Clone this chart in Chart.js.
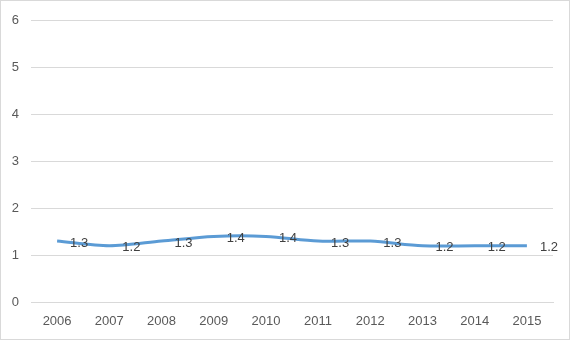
<!DOCTYPE html>
<html>
<head>
<meta charset="utf-8">
<script src="https://cdn.jsdelivr.net/npm/chart.js@4/dist/chart.umd.min.js"></script>
<style>
  html, body { margin: 0; padding: 0; background: #fff; }
  #wrap { position: relative; width: 568px; height: 338px; border: 1px solid #d9d9d9; }
</style>
</head>
<body>
<div id="wrap"><canvas id="chart"></canvas></div>
<script>
var years = ['2006', '2007', '2008', '2009', '2010', '2011', '2012', '2013', '2014', '2015'];
var values = [1.3, 1.2, 1.3, 1.4, 1.4, 1.3, 1.3, 1.2, 1.2, 1.2];
var yTicks = [0, 1, 2, 3, 4, 5, 6];

// draws the value next to each point, like Excel's "right" label position
var valueLabels = {
    id: 'valueLabels',
    afterDatasetsDraw: function (chart) {
        var ctx = chart.ctx;
        var meta = chart.getDatasetMeta(0);
        ctx.save();
        ctx.font = '13px "Liberation Sans", Arial, sans-serif';
        ctx.fillStyle = '#404040';
        ctx.textAlign = 'left';
        ctx.textBaseline = 'middle';
        meta.data.forEach(function (pt, i) {
            ctx.fillText(values[i].toFixed(1), pt.x + 13, pt.y + 2);
        });
        ctx.restore();
    }
};

var ctx = document.getElementById('chart').getContext('2d');
var chart = new Chart(ctx, {
    type: 'line',
    data: {
        labels: years,
        datasets: [{
            data: values,
            borderColor: '#5b9bd5',
            borderWidth: 3,
            tension: 0.3,
            pointRadius: 0,
            fill: false
        }]
    },
    options: {
        responsive: true,
        maintainAspectRatio: false,
        animation: false,
        layout: { padding: { top: 14, right: 16, left: 0, bottom: 0 } },
        plugins: {
            legend: { display: false },
            tooltip: { enabled: false }
        },
        scales: {
            x: {
                offset: true,
                grid: { display: false, drawTicks: false },
                border: { display: true, color: '#d9d9d9' },
                ticks: {
                    color: '#595959',
                    font: { family: '"Liberation Sans", Arial, sans-serif', size: 13 },
                    padding: 12,
                    maxRotation: 0
                },
                afterFit: function (scale) { scale.height = 37; }
            },
            y: {
                min: 0,
                max: 6,
                afterBuildTicks: function (scale) {
                    scale.ticks = yTicks.map(function (v) { return { value: v }; });
                },
                grid: { color: '#d9d9d9', drawTicks: false },
                border: { display: false },
                ticks: {
                    color: '#595959',
                    font: { family: '"Liberation Sans", Arial, sans-serif', size: 13 },
                    padding: 12
                },
                afterFit: function (scale) { scale.width = 30; }
            }
        }
    },
    plugins: [valueLabels]
});
</script>
</body>
</html>
